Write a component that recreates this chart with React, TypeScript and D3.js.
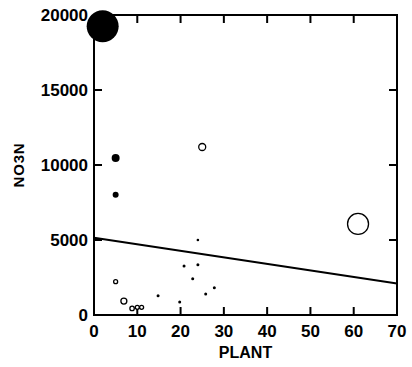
import React from "react";
import * as d3 from "d3";

const xTicks = [0, 10, 20, 30, 40, 50, 60, 70];
const yTicks = [0, 5000, 10000, 15000, 20000];
const plantX = [2, 5, 5, 25, 61, 24, 20.8, 24, 22.8, 27.8, 25.8, 14.8, 19.8, 5, 6.9, 8.8, 10, 11];
const no3nY = [19250, 10470, 8020, 11200, 6070, 5000, 3270, 3350, 2420, 1820, 1400, 1290, 860, 2220, 930, 440, 510, 510];
const pointSize = [16, 4, 3, 3.5, 10.5, 1.3, 1.5, 1.5, 1.5, 1.5, 1.5, 1.5, 1.5, 2, 3, 2.2, 2, 2];
const pointFilled = [true, true, true, false, false, true, true, true, true, true, true, true, true, false, false, false, false, false];
const lineX = [0, 70];
const lineY = [5150, 2100];

export default function App() {
  const W = 412, H = 367;
  const x = d3.scaleLinear().domain([0, 70]).range([94, 397]);
  const y = d3.scaleLinear().domain([0, 20000]).range([315, 15]);
  const line = d3.line<number>().x((_, i) => x(lineX[i])).y((d) => y(d));
  const font = "'Liberation Sans', Arial, sans-serif";
  const tl = 8;
  return (
    <svg width={W} height={H} style={{ position: "absolute", left: 0, top: 0 }}>
      <rect x={0} y={0} width={W} height={H} fill="#fff" />
      <g stroke="#000" strokeWidth={2} fill="none">
        <rect x={x(0)} y={y(20000)} width={x(70) - x(0)} height={y(0) - y(20000)} />
        {xTicks.map((t) => (
          <g key={"x" + t}>
            <line x1={x(t)} x2={x(t)} y1={y(0)} y2={y(0) - tl} />
            <line x1={x(t)} x2={x(t)} y1={y(20000)} y2={y(20000) + tl} />
          </g>
        ))}
        {yTicks.map((t) => (
          <g key={"y" + t}>
            <line x1={x(0)} x2={x(0) + tl} y1={y(t)} y2={y(t)} />
            <line x1={x(70)} x2={x(70) - tl} y1={y(t)} y2={y(t)} />
          </g>
        ))}
        <path d={line(lineY) || ""} strokeWidth={2} />
      </g>
      {plantX.map((px, i) => (
        <circle
          key={i}
          cx={x(px)}
          cy={y(no3nY[i])}
          r={pointSize[i]}
          fill={pointFilled[i] ? "#000" : "#fff"}
          stroke="#000"
          strokeWidth={pointFilled[i] ? 0 : 1.3}
        />
      ))}
      <g fontFamily={font} fontWeight="bold" fontSize={17} fill="#000">
        {xTicks.map((t) => (
          <text key={"xl" + t} x={x(t)} y={337} textAnchor="middle">{t}</text>
        ))}
        {yTicks.map((t) => (
          <text key={"yl" + t} x={88} y={y(t) + 6} textAnchor="end">{t}</text>
        ))}
        <text x={x(35)} y={358} textAnchor="middle" fontSize={16}>PLANT</text>
        <text transform={`translate(24,${y(10000)}) rotate(-90)`} textAnchor="middle" fontSize={15} letterSpacing={0.8}>NO3N</text>
      </g>
    </svg>
  );
}
